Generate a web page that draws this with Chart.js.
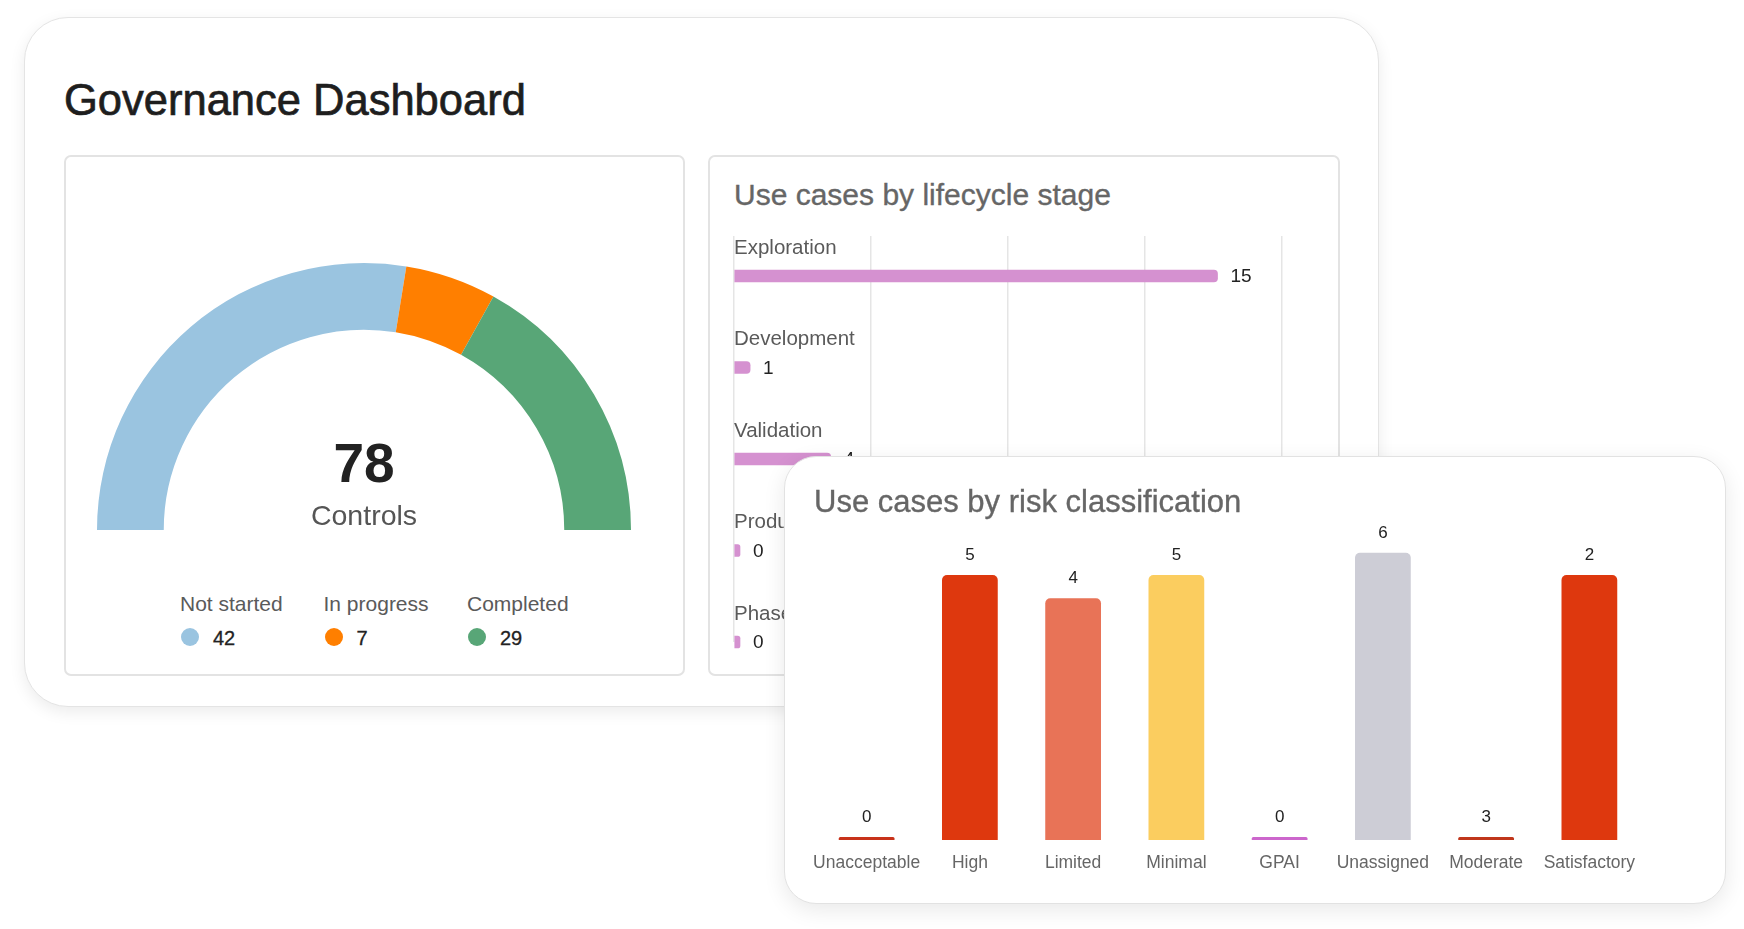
<!DOCTYPE html>
<html>
<head>
<meta charset="utf-8">
<title>Governance Dashboard</title>
<script src="https://cdn.jsdelivr.net/npm/chart.js@4.4.1/dist/chart.umd.min.js"></script>
<style>
  html, body { margin: 0; padding: 0; background: #fff; }
  body {
    width: 1744px; height: 929px; position: relative; overflow: hidden;
    font-family: "Liberation Sans", Arial, Helvetica, sans-serif;
  }
  .box { position: absolute; box-sizing: border-box; background: #fff; }
  #main {
    left: 24px; top: 17px; width: 1355px; height: 690px;
    border: 1.5px solid #e4e4e4; border-radius: 44px;
    box-shadow: 0 5px 16px rgba(0, 0, 0, 0.08);
  }
  #gaugePanel { left: 64px; top: 155px; width: 621px; height: 521px; border: 2px solid #e3e3e3; border-radius: 7px; }
  #stagePanel { left: 708px; top: 155px; width: 632px; height: 521px; border: 2px solid #e3e3e3; border-radius: 7px; }
  #riskPanel {
    left: 784px; top: 456px; width: 942px; height: 448px; z-index: 5;
    border: 1.5px solid #e2e2e2; border-radius: 32px;
    box-shadow: 0 6px 22px rgba(0, 0, 0, 0.09);
  }
  .txt { position: absolute; white-space: nowrap; line-height: 1; }
  #title { left: 64px; top: 79px; font-size: 43.5px; color: #1e1e1e; -webkit-text-stroke: 0.7px #1e1e1e; }
  #stageTitle { left: 734px; top: 180px; font-size: 30px; color: #666; -webkit-text-stroke: 0.35px #666; }
  #riskTitle { left: 814px; top: 486px; font-size: 31px; color: #666; -webkit-text-stroke: 0.35px #666; z-index: 6; }
  .cv { position: absolute; }
  #gaugeWrap { left: 93px; top: 259px; width: 542px; height: 275px; }
  #stageWrap { left: 724px; top: 226px; width: 568px; height: 430px; }
  #riskWrap { left: 795px; top: 500px; width: 866px; height: 395px; z-index: 6; }
  #legend { position: absolute; left: 180px; top: 593px; display: flex; }
  .leg { width: 143.5px; position: relative; height: 60px; }
  .leg .lab { position: absolute; left: 0; top: 0; font-size: 21px; line-height: 1; color: #5a5a5a; white-space: nowrap; }
  .leg .dot { position: absolute; left: 1px; top: 35px; width: 18px; height: 18px; border-radius: 50%; }
  .leg .val { position: absolute; left: 33px; top: 35px; font-size: 20px; line-height: 1; color: #222; -webkit-text-stroke: 0.3px #222; }
</style>
</head>
<body>
<div class="box" id="main"></div>
<div class="box" id="gaugePanel"></div>
<div class="box" id="stagePanel"></div>
<div class="box" id="riskPanel"></div>

<div class="txt" id="title">Governance Dashboard</div>
<div class="txt" id="stageTitle">Use cases by lifecycle stage</div>
<div class="txt" id="riskTitle">Use cases by risk classification</div>

<div class="cv" id="gaugeWrap"><canvas id="gauge"></canvas></div>
<div id="legend"></div>
<div class="cv" id="stageWrap"><canvas id="stages"></canvas></div>
<div class="cv" id="riskWrap"><canvas id="risk"></canvas></div>

<script>
// controls gauge: arc shares as drawn, and the counts in the legend
const statusLabels = ['Not started', 'In progress', 'Completed'];
const statusArcs = [42.9, 8.6, 26.4];
const statusCounts = [42, 7, 29];
const statusColors = ['#9ac4e0', '#ff7f00', '#58a677'];

// lifecycle stages: bar lengths as drawn, and the counts printed next to them
const stageLabels = ['Exploration', 'Development', 'Validation', 'Production', 'Phase out'];
const stageBars = [15, 0.5, 3, 0, 0];
const stageCounts = [15, 1, 4, 0, 0];
const stageMax = 17;
const stageStep = 4.25;

// risk classes: bar heights as drawn, and the counts printed above them
const riskLabels = ['Unacceptable', 'High', 'Limited', 'Minimal', 'GPAI', 'Unassigned', 'Moderate', 'Satisfactory'];
const riskBars = [0, 5, 4.56, 5, 0, 5.42, 0, 5];
const riskCounts = [0, 5, 4, 5, 0, 6, 3, 2];
const riskColors = ['#c8321a', '#de380e', '#e87357', '#fbcd5f', '#cc66cc', '#cdcdd6', '#c0361b', '#de380e'];

const FONT = '"Liberation Sans", Arial, Helvetica, sans-serif';

// legend under the gauge
const legend = document.getElementById('legend');
statusLabels.forEach((lab, i) => {
    const el = document.createElement('div');
    el.className = 'leg';
    el.innerHTML = '<div class="lab">' + lab + '</div>' +
        '<div class="dot" style="background:' + statusColors[i] + '"></div>' +
        '<div class="val">' + statusCounts[i] + '</div>';
    legend.appendChild(el);
});

const centerText = {
    id: 'centerText',
    afterDatasetsDraw(chart) {
        const arc = chart.getDatasetMeta(0).data[0];
        if (!arc) return;
        const total = statusCounts.reduce((a, b) => a + b, 0);
        const ctx = chart.ctx;
        ctx.save();
        ctx.textAlign = 'center';
        ctx.textBaseline = 'alphabetic';
        ctx.fillStyle = '#222';
        ctx.font = 'bold 55px ' + FONT;
        ctx.fillText(String(total), arc.x, arc.y - 48);
        ctx.fillStyle = '#555';
        ctx.font = '28.5px ' + FONT;
        ctx.fillText('Controls', arc.x, arc.y - 5);
        ctx.restore();
    }
};

new Chart(document.getElementById('gauge'), {
    type: 'doughnut',
    data: {
        labels: statusLabels,
        datasets: [{
            data: statusArcs,
            backgroundColor: statusColors,
            borderWidth: 0
        }]
    },
    options: {
        responsive: true,
        maintainAspectRatio: false,
        animation: false,
        rotation: -90,
        circumference: 180,
        cutout: '75%',
        layout: { padding: 4 },
        plugins: { legend: { display: false }, tooltip: { enabled: false } }
    },
    plugins: [centerText]
});

// count labels at the end of each bar
function countLabels(id, counts, horizontal, font) {
    return {
        id: id,
        afterDatasetsDraw(chart) {
            const ctx = chart.ctx;
            ctx.save();
            ctx.fillStyle = '#222';
            ctx.font = font;
            chart.getDatasetMeta(0).data.forEach((bar, i) => {
                if (horizontal) {
                    ctx.textAlign = 'left';
                    ctx.textBaseline = 'middle';
                    ctx.fillText(String(counts[i]), bar.x + 13, bar.y + 1);
                } else {
                    ctx.textAlign = 'center';
                    ctx.textBaseline = 'alphabetic';
                    ctx.fillText(String(counts[i]), bar.x, bar.y - 15);
                }
            });
            ctx.restore();
        }
    };
}

new Chart(document.getElementById('stages'), {
    type: 'bar',
    data: {
        labels: stageLabels,
        datasets: [{
            data: stageBars,
            backgroundColor: '#d591d0',
            barThickness: 12,
            borderRadius: 4,
            minBarLength: 6,
            clip: false
        }]
    },
    options: {
        indexAxis: 'y',
        responsive: true,
        maintainAspectRatio: false,
        animation: false,
        layout: { padding: { left: 2, right: 10, top: 10, bottom: 14 } },
        plugins: { legend: { display: false }, tooltip: { enabled: false } },
        scales: {
            x: {
                position: 'top',
                min: 0,
                max: stageMax,
                ticks: { display: false, stepSize: stageStep },
                border: { display: false },
                grid: { color: '#e5e5e5', lineWidth: 1.5, drawTicks: true, tickLength: 40 }
            },
            y: {
                offset: false,
                grid: { display: false },
                border: { display: false },
                ticks: {
                    mirror: true,
                    padding: 0,
                    labelOffset: -28,
                    color: '#5a5a5a',
                    font: { family: FONT, size: 20.5 }
                }
            }
        }
    },
    plugins: [countLabels('stageCounts', stageCounts, true, '19px ' + FONT)]
});

new Chart(document.getElementById('risk'), {
    type: 'bar',
    data: {
        labels: riskLabels,
        datasets: [{
            data: riskBars,
            backgroundColor: riskColors,
            categoryPercentage: 1,
            barPercentage: 0.54,
            borderRadius: { topLeft: 5, topRight: 5 },
            borderSkipped: 'start',
            minBarLength: 3,
            clip: false
        }]
    },
    options: {
        responsive: true,
        maintainAspectRatio: false,
        animation: false,
        layout: { padding: { left: 20, right: 20, top: 22, bottom: 8 } },
        plugins: { legend: { display: false }, tooltip: { enabled: false } },
        scales: {
            x: {
                grid: { display: false, drawTicks: false },
                border: { display: false },
                ticks: {
                    autoSkip: false,
                    maxRotation: 0,
                    padding: 13,
                    color: '#666',
                    font: { family: FONT, size: 17.5 }
                }
            },
            y: {
                display: false,
                min: 0,
                max: 6
            }
        }
    },
    plugins: [countLabels('riskCounts', riskCounts, false, '17px ' + FONT)]
});
</script>
</body>
</html>
